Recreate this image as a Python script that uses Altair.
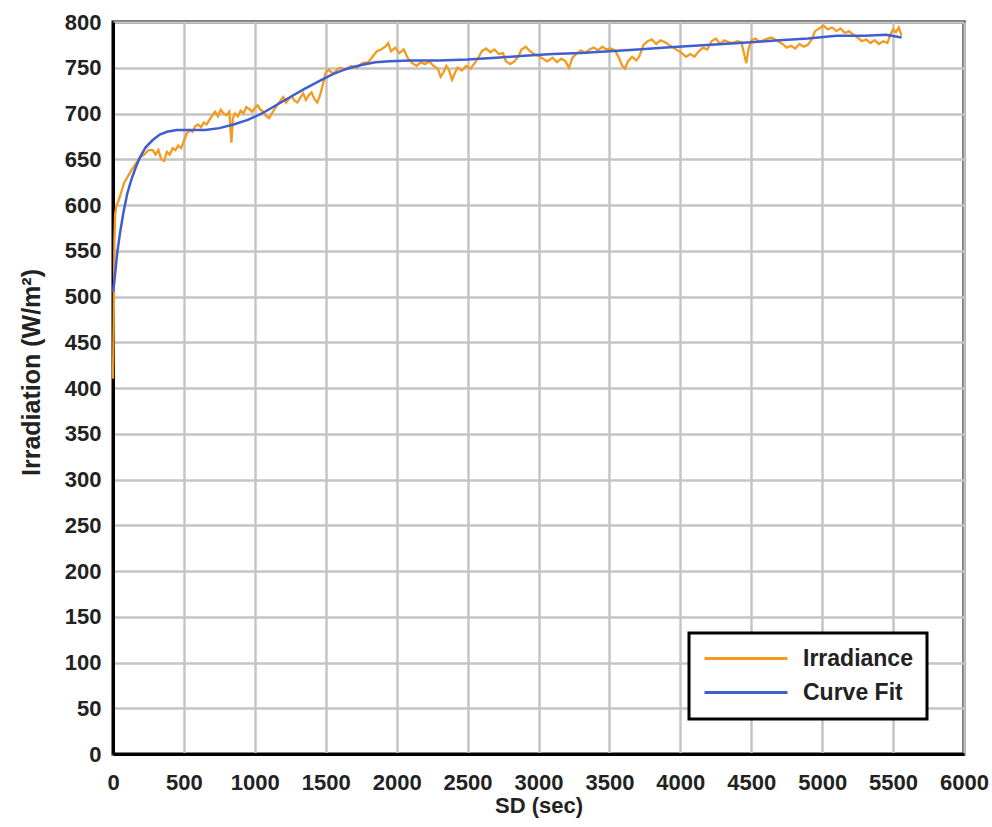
import altair as alt
import pandas as pd

# Measured irradiance (time in seconds, W/m^2)
irr_t = [0, 5, 10, 15, 25, 40, 60, 80, 100, 130, 160, 190, 220, 250, 280, 300, 320, 340, 360, 380,
         400, 420, 440, 460, 480, 500, 520, 540, 560, 580, 600, 620, 640, 660, 680, 700, 720, 740, 760, 780,
         800, 820, 835, 845, 860, 880, 900, 920, 940, 960, 980, 1000, 1020, 1040, 1060, 1080, 1100, 1120, 1140, 1160,
         1180, 1200, 1220, 1240, 1260, 1280, 1300, 1320, 1340, 1360, 1380, 1400, 1420, 1440, 1460, 1480, 1500, 1520, 1540, 1560,
         1580, 1600, 1640, 1680, 1720, 1760, 1800, 1830, 1860, 1890, 1920, 1940, 1960, 1990, 2020, 2050, 2080, 2110, 2140, 2170,
         2200, 2230, 2260, 2290, 2310, 2330, 2350, 2370, 2390, 2410, 2430, 2460, 2490, 2520, 2550, 2580, 2600, 2630, 2660, 2690,
         2720, 2750, 2770, 2800, 2830, 2860, 2880, 2910, 2940, 2970, 3000, 3030, 3060, 3100, 3130, 3160, 3190, 3215, 3240, 3270,
         3300, 3330, 3360, 3390, 3420, 3450, 3480, 3510, 3540, 3570, 3590, 3610, 3630, 3660, 3690, 3710, 3740, 3770, 3800, 3830,
         3860, 3890, 3920, 3950, 3980, 4010, 4040, 4070, 4100, 4130, 4160, 4190, 4220, 4250, 4280, 4310, 4340, 4370, 4400, 4430,
         4450, 4465, 4480, 4500, 4530, 4560, 4600, 4640, 4680, 4720, 4750, 4780, 4810, 4840, 4870, 4900, 4930, 4950, 4980, 5010,
         5040, 5070, 5100, 5130, 5160, 5190, 5220, 5250, 5280, 5310, 5340, 5370, 5400, 5430, 5460, 5480, 5500, 5520, 5540, 5560]
irr_v = [410, 470, 560, 590, 600, 605, 615, 625, 630, 638, 645, 652, 655, 660, 660, 655, 660, 650, 648, 658,
         655, 662, 660, 665, 662, 670, 678, 682, 680, 686, 688, 685, 690, 688, 693, 698, 702, 697, 704, 700,
         698, 702, 668, 695, 700, 697, 703, 700, 707, 705, 702, 706, 709, 704, 702, 697, 695, 700, 705, 710,
         714, 718, 712, 716, 719, 714, 712, 717, 722, 715, 720, 723, 716, 712, 720, 732, 745, 748, 745, 744,
         748, 750, 748, 752, 750, 755, 756, 762, 768, 770, 773, 777, 768, 772, 766, 770, 760, 755, 752, 756,
         754, 757, 752, 749, 740, 745, 752, 747, 737, 744, 750, 747, 752, 749, 755, 762, 768, 771, 767, 770,
         765, 766, 757, 754, 757, 763, 770, 773, 768, 765, 763, 760, 757, 761, 756, 760, 757, 750, 761, 766,
         769, 766, 770, 772, 769, 773, 770, 771, 769, 760, 752, 749, 757, 762, 758, 762, 775, 779, 781, 776,
         780, 778, 775, 772, 769, 766, 762, 765, 762, 768, 772, 770, 779, 782, 776, 780, 778, 777, 779, 778,
         765, 755, 770, 780, 782, 778, 781, 783, 780, 776, 772, 774, 771, 776, 773, 775, 782, 790, 793, 796,
         792, 794, 790, 793, 788, 790, 786, 783, 779, 781, 777, 780, 776, 779, 777, 786, 792, 789, 794, 785]

# Fitted curve
fit_t = [0, 12, 30, 50, 75, 100, 130, 160, 190, 230, 280, 330, 380, 450, 550, 650, 750, 850, 950, 1050,
         1150, 1250, 1350, 1450, 1550, 1650, 1750, 1850, 1950, 2100, 2300, 2500, 2700, 2900, 3100, 3300, 3500, 3700, 3900, 4100,
         4300, 4500, 4700, 4900, 5100, 5300, 5450, 5560]
fit_v = [505, 520, 548, 570, 593, 612, 628, 641, 652, 663, 671, 677, 680, 682, 682, 682, 684, 688, 693, 700,
         709, 718, 727, 735, 743, 749, 753, 756, 757, 758, 758, 759, 761, 763, 765, 766, 768, 770, 772, 774,
         776, 778, 780, 782, 785, 785, 786, 783]

series_names = ["Irradiance", "Curve Fit"]
series_colors = ["#F39A1F", "#3E5ED1"]

irr = pd.DataFrame({"t": irr_t, "v": irr_v, "series": series_names[0]})
fit = pd.DataFrame({"t": fit_t, "v": fit_v, "series": series_names[1]})

FONT = "Liberation Sans"

x = alt.X("t:Q", title="SD (sec)",
          scale=alt.Scale(domain=[0, 6000], nice=False),
          axis=alt.Axis(values=list(range(0, 6001, 500)), format="d", labelFlush=False,
                        labelPadding=18, titlePadding=2))
y = alt.Y("v:Q", title="Irradiation (W/m²)",
          scale=alt.Scale(domain=[0, 800], nice=False),
          axis=alt.Axis(values=list(range(0, 801, 50)), format="d", labelFlush=False,
                        labelPadding=12, titlePadding=20, titleY=350))

# Legend key: a short custom stroke path (unit coords scaled by sqrt(size)/2)
# keeps the rows compact while drawing a long line sample.
color = alt.Color("series:N",
                  scale=alt.Scale(domain=series_names, range=series_colors),
                  legend=alt.Legend(title=None, orient="none", legendX=576, legendY=611,
                                    fillColor="white", strokeColor="black",
                                    padding=14, symbolType="M-1,0H7.3", symbolSize=400,
                                    symbolStrokeWidth=3, labelOffset=77, rowPadding=10,
                                    labelFont=FONT, labelFontSize=23, labelFontWeight="bold",
                                    labelColor="#222222"))

irr_line = alt.Chart(irr).mark_line(strokeWidth=2.3).encode(x=x, y=y, color=color)
fit_line = alt.Chart(fit).mark_line(strokeWidth=2.5).encode(x=x, y=y, color=color)

chart = (
    alt.layer(irr_line, fit_line)
    .properties(width=851, height=732,
                autosize=alt.AutoSizeParams(type="none"),
                padding={"left": 113, "top": 22, "right": 28, "bottom": 73},
                background="white")
    .configure_view(stroke="black", strokeWidth=3)
    .configure_legend(strokeWidth=3)
    .configure_axis(grid=True, gridColor="#c4c4c4", gridWidth=2.5, tickSize=0,
                    domain=True, domainColor="black", domainWidth=3,
                    labelFont=FONT, labelFontSize=22, labelFontWeight="bold", labelColor="#222222",
                    titleFont=FONT, titleFontWeight="bold", titleColor="#222222")
    .configure_axisX(titleFontSize=22)
    .configure_axisY(titleFontSize=25)
)

chart.save("out.html", embed_options={"renderer": "svg", "actions": False})
